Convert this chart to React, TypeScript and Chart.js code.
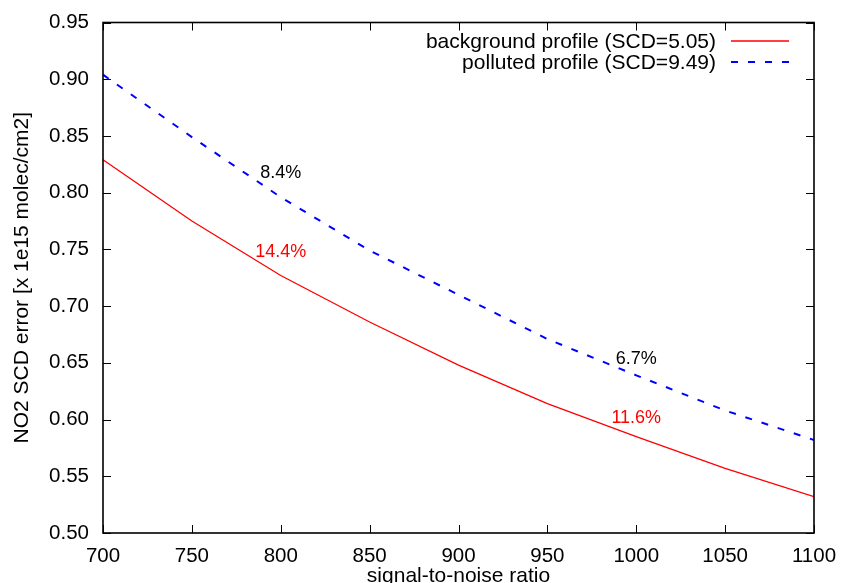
import { useEffect, useRef } from "react";
import { Chart, registerables } from "chart.js";

Chart.register(...registerables);

// ---- data ----
const snr = [700, 750, 800, 850, 900, 950, 1000, 1050, 1100];
const backgroundErr = [0.829, 0.775, 0.727, 0.686, 0.648, 0.614, 0.585, 0.557, 0.532];
const pollutedErr = [0.904, 0.849, 0.796, 0.749, 0.71, 0.671, 0.639, 0.608, 0.582];
const seriesNames = ["background profile (SCD=5.05)", "polluted profile (SCD=9.49)"];
const xTickValues = [700, 750, 800, 850, 900, 950, 1000, 1050, 1100];
const yTickValues = [0.5, 0.55, 0.6, 0.65, 0.7, 0.75, 0.8, 0.85, 0.9, 0.95];
const noteTexts = ["8.4%", "14.4%", "6.7%", "11.6%"];
const noteX = [800, 800, 1000, 1000];
const noteY = [0.817, 0.748, 0.653, 0.601];
const noteSeries = [1, 0, 1, 0];

const FONT = "'Liberation Sans', Arial, Helvetica, sans-serif";

const framePlugin = {
  id: "gnuplotFrame",
  afterDatasetsDraw(chart: any) {
    const { ctx, chartArea } = chart;
    const { left, right, top, bottom } = chartArea;
    const xs = chart.scales.x;
    const ys = chart.scales.y;
    const tl = 8;
    ctx.save();
    ctx.strokeStyle = "#000";
    ctx.lineWidth = 1;
    ctx.beginPath();
    xTickValues.forEach((v) => {
      const px = Math.round(xs.getPixelForValue(v)) + 0.5;
      ctx.moveTo(px, bottom);
      ctx.lineTo(px, bottom - tl);
      ctx.moveTo(px, top);
      ctx.lineTo(px, top + tl);
    });
    yTickValues.forEach((v) => {
      const py = Math.round(ys.getPixelForValue(v)) + 0.5;
      ctx.moveTo(left, py);
      ctx.lineTo(left + tl, py);
      ctx.moveTo(right, py);
      ctx.lineTo(right - tl, py);
    });
    ctx.stroke();
    ctx.lineWidth = 1.6;
    ctx.strokeRect(left, top, right - left, bottom - top);

    // notes
    ctx.font = `18px ${FONT}`;
    ctx.textAlign = "center";
    ctx.textBaseline = "middle";
    noteTexts.forEach((t, i) => {
      const ds = chart.data.datasets[noteSeries[i]];
      ctx.fillStyle = noteSeries[i] === 0 ? ds.borderColor : "#000";
      ctx.fillText(t, xs.getPixelForValue(noteX[i]), ys.getPixelForValue(noteY[i]));
    });

    // legend (gnuplot style: right-aligned text, sample on the right)
    ctx.font = `21px ${FONT}`;
    ctx.textAlign = "right";
    chart.data.datasets.forEach((ds: any, i: number) => {
      const y = top + 18.5 + i * 21;
      ctx.fillStyle = "#000";
      ctx.fillText(ds.label, right - 98, y + 1);
      ctx.strokeStyle = ds.borderColor;
      ctx.lineWidth = ds.borderWidth;
      ctx.setLineDash(ds.borderDash || []);
      ctx.beginPath();
      ctx.moveTo(right - 83, y);
      ctx.lineTo(right - 25, y);
      ctx.stroke();
      ctx.setLineDash([]);
    });
    ctx.restore();
  },
};

export default function App() {
  const ref = useRef<HTMLCanvasElement | null>(null);
  useEffect(() => {
    if (!ref.current) return;
    const chart = new Chart(ref.current, {
      type: "line",
      data: {
        datasets: [
          {
            label: seriesNames[0],
            data: snr.map((x, i) => ({ x, y: backgroundErr[i] })),
            borderColor: "#ff0000",
            borderWidth: 1.3,
            pointRadius: 0,
            tension: 0,
            fill: false,
          },
          {
            label: seriesNames[1],
            data: snr.map((x, i) => ({ x, y: pollutedErr[i] })),
            borderColor: "#0000ff",
            borderWidth: 2,
            borderDash: [7, 10],
            pointRadius: 0,
            tension: 0,
            fill: false,
          },
        ],
      },
      options: {
        animation: false,
        responsive: false,
        devicePixelRatio: 1,
        layout: { padding: { top: 22.5, right: 27, left: 0, bottom: 0 } },
        plugins: { legend: { display: false }, tooltip: { enabled: false } },
        scales: {
          x: {
            type: "linear",
            min: 700,
            max: 1100,
            afterBuildTicks: (s: any) => {
              s.ticks = xTickValues.map((v) => ({ value: v }));
            },
            afterFit: (s: any) => {
              s.height = 50;
              s.paddingLeft = 0;
              s.paddingRight = 0;
            },
            grid: { display: false, drawTicks: false },
            border: { display: false },
            ticks: {
              color: "#000",
              padding: 11,
              maxRotation: 0,
              font: { family: FONT, size: 20.5 },
              callback: (v: any) => String(v),
            },
            title: {
              display: true,
              text: "signal-to-noise ratio",
              color: "#000",
              font: { family: FONT, size: 21, lineHeight: 1 },
              padding: { top: 0, bottom: -4 },
            },
          },
          y: {
            type: "linear",
            min: 0.5,
            max: 0.95,
            afterBuildTicks: (s: any) => {
              s.ticks = yTickValues.map((v) => ({ value: v }));
            },
            afterFit: (s: any) => {
              s.width = 103;
              s.paddingTop = 0;
              s.paddingBottom = 0;
            },
            grid: { display: false, drawTicks: false },
            border: { display: false },
            ticks: {
              color: "#000",
              padding: 14,
              font: { family: FONT, size: 20.5 },
              callback: (v: any) => Number(v).toFixed(2),
            },
            title: {
              display: true,
              text: "NO2 SCD error [x 1e15 molec/cm2]",
              color: "#000",
              font: { family: FONT, size: 21, lineHeight: 1.2 },
              padding: { top: 10, bottom: 0 },
            },
          },
        },
      },
      plugins: [framePlugin],
    });
    return () => chart.destroy();
  }, []);
  return (
    <div style={{ position: "absolute", left: 0, top: 0, width: 841, height: 583, background: "#fff" }}>
      <canvas ref={ref} width={841} height={583} style={{ display: "block" }} />
    </div>
  );
}
